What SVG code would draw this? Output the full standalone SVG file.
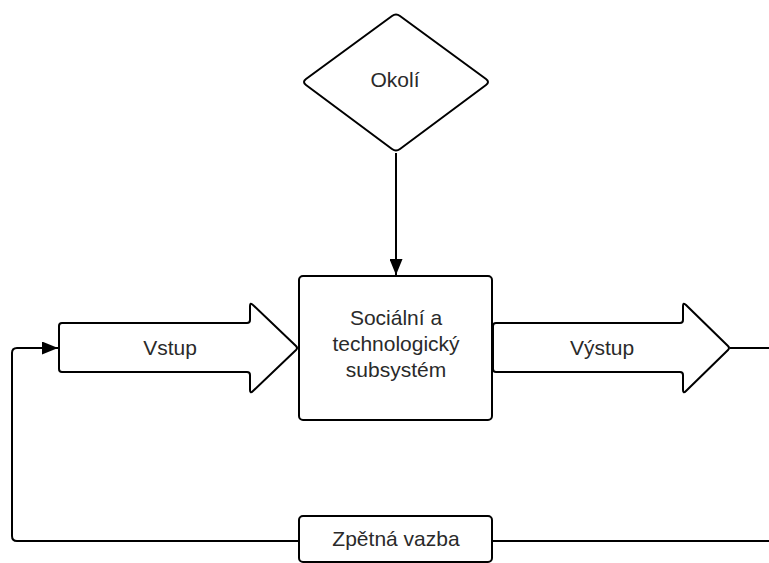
<svg xmlns="http://www.w3.org/2000/svg" width="769" height="563" viewBox="0 0 769 563">
  <style>
    .shape { fill: #ffffff; stroke: #000000; stroke-width: 2; stroke-linejoin: round; }
    .wire { fill: none; stroke: #000000; stroke-width: 2; stroke-linejoin: round; }
    .label { font-family: "Liberation Sans", Arial, sans-serif; font-size: 21px; fill: #2a2a2a; text-anchor: middle; }
  </style>
  <defs>
    <marker id="arrow" markerWidth="16" markerHeight="13" refX="16" refY="6.5" orient="auto" markerUnits="userSpaceOnUse">
      <path d="M0,0 L16,6.5 L0,13 Z" fill="#000000"/>
    </marker>
  </defs>
  <rect width="769" height="563" fill="#ffffff"/>

  <!-- connectors -->
  <g id="connectors">
    <path class="wire" d="M396,153 L396,275" marker-end="url(#arrow)"/>
    <path class="wire" d="M730,348 L769,348"/>
    <path class="wire" d="M769,541 L17,541 Q12,541 12,536 L12,353 Q12,348 17,348 L58,348" marker-end="url(#arrow)"/>
  </g>

  <!-- diamond with softened vertices -->
  <g id="okoli">
    <path class="shape" d="M392,16 Q396,13 400,16 L486,79 Q490,82 486,85 L400,149 Q396,152 392,149 L306,85 Q302,82 306,79 Z"/>
    <text class="label" x="395" y="87">Okolí</text>
  </g>

  <g id="subsystem">
    <rect class="shape" x="299" y="276" width="193" height="144" rx="4"/>
    <text class="label" x="396" y="325">Sociální a</text>
    <text class="label" x="396" y="351">technologický</text>
    <text class="label" x="396" y="377">subsystém</text>
  </g>

  <g id="vstup">
    <path class="shape" d="M62,323 L247,323 Q250,323 250,320 L250,306 Q250,302 253,305 L296,346 Q298,348 296,350 L253,391 Q250,394 250,390 L250,375 Q250,372 247,372 L62,372 Q59,372 59,369 L59,326 Q59,323 62,323 Z"/>
    <text class="label" x="170" y="355">Vstup</text>
  </g>

  <g id="vystup">
    <path class="shape" d="M496,323 L680,323 Q683,323 683,320 L683,306 Q683,302 686,305 L728,346 Q730,348 728,350 L686,391 Q683,394 683,390 L683,375 Q683,372 680,372 L496,372 Q493,372 493,369 L493,326 Q493,323 496,323 Z"/>
    <text class="label" x="602" y="355">Výstup</text>
  </g>

  <g id="zpetna-vazba">
    <rect class="shape" x="299" y="516" width="193" height="46" rx="4"/>
    <text class="label" x="396" y="546">Zpětná vazba</text>
  </g>
</svg>
